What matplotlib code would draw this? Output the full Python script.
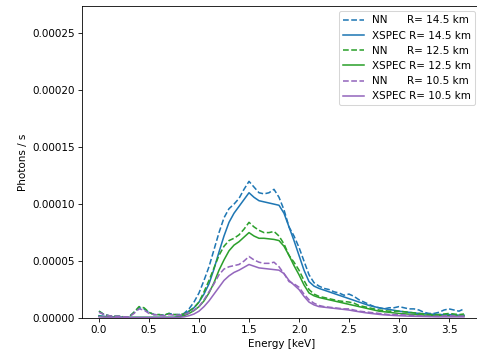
import matplotlib
matplotlib.use("Agg")
import matplotlib.pyplot as plt
import numpy as np

energy = [0.00, 0.05, 0.10, 0.15, 0.20, 0.25, 0.30, 0.35, 0.40, 0.45,
          0.50, 0.55, 0.60, 0.65, 0.70, 0.75, 0.80, 0.85, 0.90, 0.95,
          1.00, 1.05, 1.10, 1.15, 1.20, 1.25, 1.30, 1.35, 1.40, 1.45,
          1.50, 1.55, 1.60, 1.65, 1.70, 1.75, 1.80, 1.85, 1.90, 1.95,
          2.00, 2.05, 2.10, 2.15, 2.20, 2.25, 2.30, 2.35, 2.40, 2.45,
          2.50, 2.55, 2.60, 2.65, 2.70, 2.75, 2.80, 2.85, 2.90, 2.95,
          3.00, 3.05, 3.10, 3.15, 3.20, 3.25, 3.30, 3.35, 3.40, 3.45,
          3.50, 3.55, 3.60, 3.65]

# values in units of 1e-5 photons/s
nn_145 = [0.6, 0.3, 0.2, 0.15, 0.15, 0.1, 0.1, 0.5, 0.9, 0.8,
          0.5, 0.3, 0.3, 0.25, 0.4, 0.3, 0.3, 0.4, 0.8, 1.4,
          2.2, 3.3, 4.5, 6.0, 7.5, 8.8, 9.6, 10.0, 10.5, 11.3,
          12.0, 11.5, 11.0, 10.9, 11.0, 11.3, 10.6, 9.5, 8.0, 7.2,
          6.2, 5.0, 3.8, 3.1, 2.8, 2.6, 2.5, 2.3, 2.2, 2.0,
          2.1, 1.9, 1.6, 1.4, 1.2, 1.0, 0.9, 0.8, 0.9, 0.9,
          1.0, 0.9, 0.8, 0.8, 0.7, 0.5, 0.4, 0.4, 0.5, 0.7,
          0.8, 0.7, 0.6, 0.8]
xs_145 = [0.2, 0.15, 0.1, 0.1, 0.1, 0.05, 0.05, 0.05, 0.05, 0.05,
          0.05, 0.05, 0.05, 0.05, 0.05, 0.05, 0.15, 0.3, 0.6, 0.9,
          1.4, 2.1, 3.0, 4.3, 5.8, 7.2, 8.4, 9.2, 9.8, 10.4,
          11.0, 10.6, 10.3, 10.2, 10.1, 10.0, 9.9, 9.2, 8.0, 6.8,
          5.5, 4.2, 3.2, 2.8, 2.6, 2.45, 2.3, 2.15, 2.0, 1.85,
          1.7, 1.55, 1.4, 1.25, 1.1, 1.0, 0.9, 0.82, 0.75, 0.68,
          0.6, 0.55, 0.5, 0.45, 0.4, 0.38, 0.35, 0.32, 0.3, 0.3,
          0.3, 0.28, 0.25, 0.25]
nn_125 = [0.6, 0.3, 0.2, 0.15, 0.15, 0.1, 0.1, 0.5, 1.0, 0.9,
          0.5, 0.3, 0.3, 0.25, 0.4, 0.3, 0.3, 0.35, 0.6, 0.9,
          1.4, 2.3, 3.3, 4.4, 5.5, 6.3, 6.8, 7.0, 7.3, 7.8,
          8.4, 8.0, 7.7, 7.5, 7.5, 7.6, 7.2, 6.5, 5.5, 4.9,
          4.2, 3.3, 2.5, 2.1, 1.9, 1.8, 1.7, 1.6, 1.5, 1.45,
          1.4, 1.3, 1.1, 1.0, 0.9, 0.8, 0.7, 0.65, 0.6, 0.6,
          0.6, 0.55, 0.5, 0.45, 0.4, 0.35, 0.3, 0.3, 0.3, 0.35,
          0.4, 0.35, 0.3, 0.35]
xs_125 = [0.15, 0.1, 0.08, 0.07, 0.06, 0.05, 0.05, 0.05, 0.05, 0.05,
          0.05, 0.05, 0.05, 0.05, 0.05, 0.05, 0.1, 0.2, 0.4, 0.65,
          1.0, 1.5, 2.2, 3.1, 4.2, 5.1, 5.9, 6.4, 6.7, 7.1,
          7.5, 7.2, 7.0, 7.0, 6.95, 6.9, 6.8, 6.3, 5.5, 4.6,
          3.8, 2.9, 2.2, 1.95, 1.8, 1.7, 1.6, 1.5, 1.4, 1.3,
          1.2, 1.1, 1.0, 0.9, 0.8, 0.7, 0.6, 0.55, 0.5, 0.45,
          0.4, 0.37, 0.34, 0.3, 0.28, 0.26, 0.24, 0.22, 0.2, 0.2,
          0.2, 0.18, 0.17, 0.17]
nn_105 = [0.5, 0.3, 0.2, 0.15, 0.15, 0.1, 0.1, 0.4, 0.8, 0.7,
          0.4, 0.3, 0.25, 0.2, 0.3, 0.25, 0.25, 0.3, 0.45, 0.7,
          1.0, 1.6, 2.3, 3.0, 3.8, 4.3, 4.5, 4.6, 4.7, 5.0,
          5.4, 5.1, 4.9, 4.8, 4.8, 4.9, 4.5, 3.9, 3.2, 3.0,
          2.7, 2.1, 1.6, 1.3, 1.1, 1.0, 0.95, 0.9, 0.85, 0.8,
          0.8, 0.7, 0.6, 0.55, 0.5, 0.45, 0.4, 0.35, 0.3, 0.3,
          0.3, 0.28, 0.25, 0.22, 0.2, 0.18, 0.15, 0.15, 0.15, 0.18,
          0.2, 0.18, 0.15, 0.18]
xs_105 = [0.1, 0.08, 0.06, 0.05, 0.05, 0.04, 0.04, 0.04, 0.04, 0.04,
          0.04, 0.04, 0.04, 0.04, 0.04, 0.04, 0.06, 0.1, 0.2, 0.35,
          0.6, 1.0, 1.5, 2.1, 2.7, 3.3, 3.7, 4.0, 4.2, 4.45,
          4.7, 4.55, 4.4, 4.35, 4.3, 4.25, 4.2, 3.9, 3.3, 2.9,
          2.5, 1.9, 1.4, 1.15, 1.0, 0.95, 0.9, 0.85, 0.8, 0.75,
          0.7, 0.62, 0.55, 0.48, 0.42, 0.37, 0.32, 0.28, 0.25, 0.22,
          0.2, 0.18, 0.16, 0.15, 0.14, 0.13, 0.12, 0.11, 0.1, 0.1,
          0.1, 0.1, 0.1, 0.1]

labels = ["NN      R= 14.5 km", "XSPEC R= 14.5 km",
          "NN      R= 12.5 km", "XSPEC R= 12.5 km",
          "NN      R= 10.5 km", "XSPEC R= 10.5 km"]
colors = ["#1f77b4", "#1f77b4", "#2ca02c", "#2ca02c", "#9467bd", "#9467bd"]
series = [nn_145, xs_145, nn_125, xs_125, nn_105, xs_105]
styles = ["--", "-", "--", "-", "--", "-"]

DPI = 74.5
fig = plt.figure(figsize=(477 / DPI, 350 / DPI), dpi=DPI)
ax = fig.add_axes([82/477, 32/350, 400/477, 312/350])
e = np.array(energy)
for s, lab, c, ls in zip(series, labels, colors, styles):
    ax.plot(e, np.array(s) * 1e-5, ls, color=c, label=lab)
ax.set_xlim(-0.17, 3.83)
ax.set_ylim(0, 0.000274)
ax.set_yticks([0, 0.00005, 0.0001, 0.00015, 0.0002, 0.00025])
ax.set_yticklabels(["0.00000", "0.00005", "0.00010", "0.00015", "0.00020", "0.00025"])
ax.set_xticks([0.0, 0.5, 1.0, 1.5, 2.0, 2.5, 3.0, 3.5])
ax.set_xlabel("Energy [keV]")
ax.set_ylabel("Photons / s")
ax.legend(loc="upper right", bbox_to_anchor=(0.983, 0.983), borderaxespad=0)
fig.savefig("out.png", dpi=DPI)
